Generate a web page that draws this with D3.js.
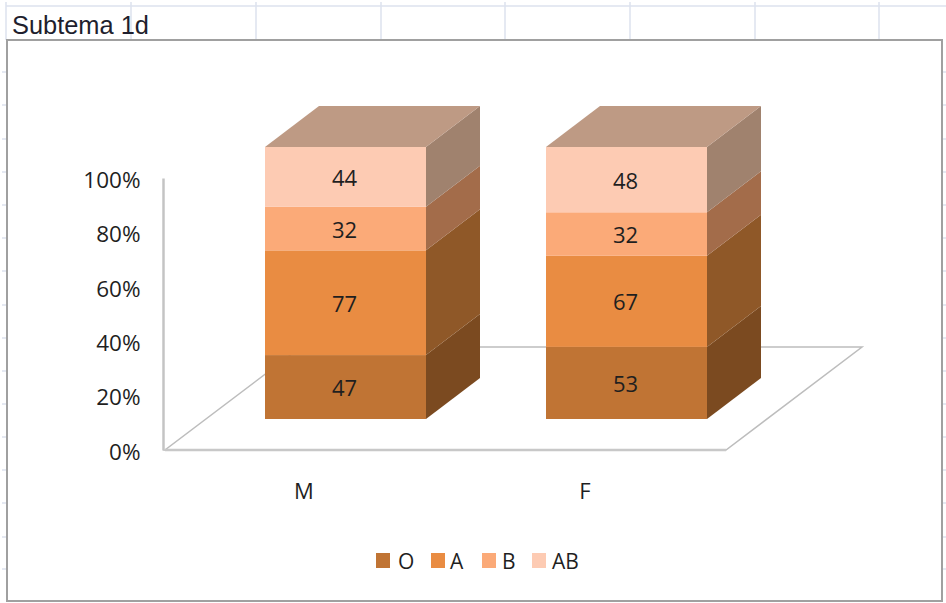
<!DOCTYPE html>
<html>
<head>
<meta charset="utf-8">
<script src="https://cdn.jsdelivr.net/npm/d3@7"></script>
<style>
  html, body { margin: 0; padding: 0; background: #fff; }
  svg { display: block; }
  text { font-family: "Open Sans", sans-serif; fill: #1f1f1f; }
</style>
</head>
<body>
<svg id="chart" width="946" height="603"></svg>
<script>
// Blood group share by sex, Excel-style 100% stacked 3-D columns.
const categories = ["M", "F"];
const groups = ["O", "A", "B", "AB"];
const valuesO = [47, 53];
const valuesA = [77, 67];
const valuesB = [32, 32];
const valuesAB = [44, 48];
const axisTicks = [0, 0.2, 0.4, 0.6, 0.8, 1];
const sheetColumns = [6, 131, 256, 381, 505, 630, 755, 879];
const sheetRows = [72, 105, 139, 172, 205, 238, 271, 305, 338, 371, 404, 437, 470, 503, 537, 569];

const frontColors = ["#c07434", "#e98c42", "#fbaa78", "#fdcbb3"];
const sideColors = ["#7b4a20", "#8f5828", "#a36c4a", "#a0826e"];
const topColor = "#be9a84";

const svg = d3.select("#chart");

// Spreadsheet cells showing around the chart object
const sheet = svg.append("g").attr("stroke", "#dde2ee").attr("stroke-width", 1.5);
sheet.selectAll(".col").data(sheetColumns).join("line")
  .attr("x1", d => d).attr("x2", d => d).attr("y1", 2).attr("y2", 40);
sheet.append("line").attr("x1", 6).attr("x2", 946).attr("y1", 6).attr("y2", 6);
sheet.selectAll(".rowL").data(sheetRows).join("line")
  .attr("x1", 2).attr("x2", 7).attr("y1", d => d).attr("y2", d => d);
sheet.selectAll(".rowR").data(sheetRows).join("line")
  .attr("x1", 942).attr("x2", 946).attr("y1", d => d).attr("y2", d => d);

svg.append("text").attr("x", 12).attr("y", 33.5)
  .style("font-family", "'Liberation Sans', sans-serif")
  .style("font-size", "25.4px").style("fill", "#1f1f2e")
  .text("Subtema 1d");

// Chart object frame
svg.append("rect").attr("x", 7).attr("y", 40).attr("width", 935).attr("height", 561)
  .attr("fill", "#fff").attr("stroke", "#a0a0a0").attr("stroke-width", 2);

// 3-D projection: every front-plane point maps to its back-plane twin by this offset
const depthX = 54, depthY = -41;
const floorDepthX = 136, floorDepthY = -103;

const x = d3.scaleBand().domain(categories).range([265, 707]).paddingInner(120 / 281).paddingOuter(0);
const y = d3.scaleLinear().domain([0, 1]).range([419, 147]);
const axisY = d3.scaleLinear().domain([0, 1]).range([450.5, 178.5]);

// Floor and back wall
const floorLeft = 165, floorRight = 726, floorFront = 450;
const gridColor = "#bdbdbd";
const floorPts = [
  [floorLeft, floorFront], [floorRight, floorFront],
  [floorRight + floorDepthX, floorFront + floorDepthY],
  [floorLeft + floorDepthX, floorFront + floorDepthY]
];
svg.append("path").attr("d", d3.line()(floorPts) + "Z")
  .attr("fill", "none").attr("stroke", gridColor).attr("stroke-width", 1.5);
svg.append("line").attr("x1", floorLeft).attr("x2", floorRight)
  .attr("y1", floorFront).attr("y2", floorFront)
  .attr("stroke", "#c8c8c8").attr("stroke-width", 2.5);
svg.append("line").attr("x1", 163.5).attr("x2", 163.5)
  .attr("y1", axisY(1)).attr("y2", axisY(0))
  .attr("stroke", "#c4c4c4").attr("stroke-width", 2.5);

// Percent axis, labels only
const axis = d3.axisLeft(axisY).tickValues(axisTicks).tickFormat(d3.format(".0%")).tickSize(0).tickPadding(0);
const axisG = svg.append("g").attr("transform", "translate(140.5,1.5)").call(axis);
axisG.select(".domain").remove();
axisG.selectAll("text").style("font-size", "22.5px").style("font-family", "'Open Sans', sans-serif").attr("fill", "#1f1f1f");

// Stacked columns
const rows = categories.map((c, i) => ({ cat: c, O: valuesO[i], A: valuesA[i], B: valuesB[i], AB: valuesAB[i] }));
const stacked = d3.stack().keys(groups).offset(d3.stackOffsetExpand)(rows);

const columns = svg.append("g");
stacked.forEach((layer, li) => {
  layer.forEach(seg => {
    const cat = seg.data.cat;
    const x0 = x(cat), x1 = x0 + x.bandwidth();
    const yTop = y(seg[1]), yBot = y(seg[0]);
    columns.append("rect")
      .attr("x", x0).attr("y", yTop).attr("width", x.bandwidth()).attr("height", yBot - yTop)
      .attr("fill", frontColors[li]);
    columns.append("path")
      .attr("d", d3.line()([[x1, yTop], [x1 + depthX, yTop + depthY], [x1 + depthX, yBot + depthY], [x1, yBot]]) + "Z")
      .attr("fill", sideColors[li]);
    if (li === groups.length - 1) {
      columns.append("path")
        .attr("d", d3.line()([[x0, yTop], [x1, yTop], [x1 + depthX, yTop + depthY], [x0 + depthX, yTop + depthY]]) + "Z")
        .attr("fill", topColor);
    }
    columns.append("text")
      .attr("x", (x0 + x1) / 2 - 1).attr("y", (yTop + yBot) / 2 + 1)
      .attr("dy", "0.36em").attr("text-anchor", "middle")
      .style("font-size", "22px")
      .text(seg.data[groups[li]]);
  });
});

// Category labels sit under the floor, left of the column centres
svg.selectAll(".cat").data(categories).join("text")
  .attr("class", "cat")
  .attr("x", d => x(d) + x.bandwidth() / 2 - 41.5)
  .attr("y", 499)
  .attr("text-anchor", "middle")
  .style("font-size", "22px")
  .text(d => d);

// Legend
const legendX = [376, 431, 482, 532];
const legendGap = [22, 19, 20, 20];
const legend = svg.selectAll(".legend").data(groups).join("g")
  .attr("class", "legend")
  .attr("transform", (d, i) => `translate(${legendX[i]},553)`);
legend.append("rect").attr("width", 14).attr("height", 15)
  .attr("fill", (d, i) => frontColors[i]);
legend.append("text").attr("x", (d, i) => legendGap[i]).attr("y", 15.5)
  .style("font-size", "21px")
  .text(d => d);
</script>
</body>
</html>
